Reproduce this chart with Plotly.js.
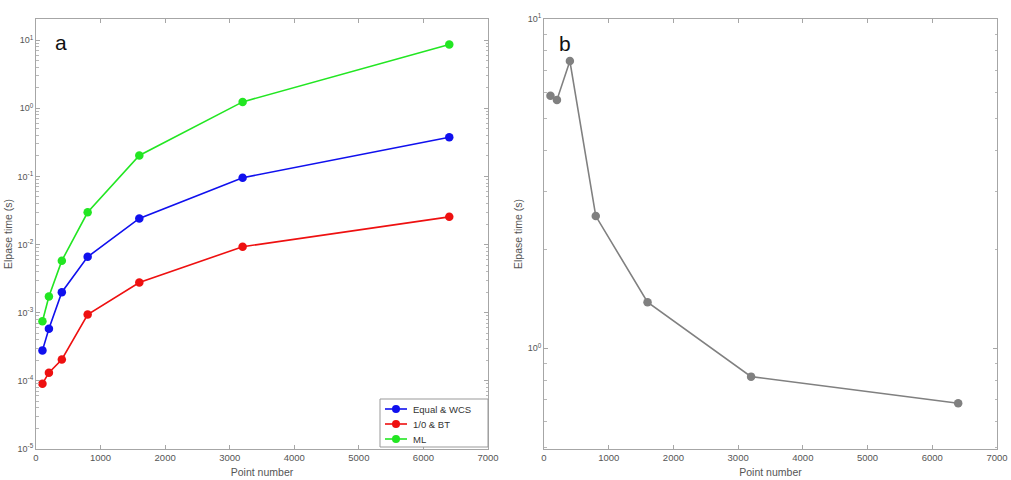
<!DOCTYPE html>
<html>
<head>
<meta charset="utf-8">
<script src="https://cdn.plot.ly/plotly-3.0.1.min.js"></script>
<style>
  html, body { margin: 0; padding: 0; background: #fff; }
  #chart { width: 1011px; height: 480px; }
</style>
</head>
<body>
<div id="chart"></div>
<script>
// Number of points processed in each run
const pointNumbers = [100, 200, 400, 800, 1600, 3200, 6400];

// Panel a: elapsed time (s) per method
const equalWcsTimes = [2.8e-4, 5.8e-4, 2.0e-3, 6.6e-3, 0.0242, 0.0957, 0.375];
const oneZeroBtTimes = [9.1e-5, 1.32e-4, 2.06e-4, 9.4e-4, 2.77e-3, 9.3e-3, 0.0255];
const mlTimes = [7.5e-4, 1.73e-3, 5.8e-3, 0.0298, 0.203, 1.24, 8.65];

// Panel b: elapsed time (s)
const panelBTimes = [5.85, 5.68, 7.45, 2.52, 1.38, 0.82, 0.681];

// Series names and colours
const seriesNames = ['Equal & WCS', '1/0 & BT', 'ML'];
const seriesColors = ['#1010ee', '#ee1010', '#22e622'];

// Tick positions and labels
const xTickVals = [0, 1000, 2000, 3000, 4000, 5000, 6000, 7000];
const xTickText = ['0', '1000', '2000', '3000', '4000', '5000', '6000', '7000'];
const yTickValsA = [1e-5, 1e-4, 1e-3, 1e-2, 1e-1, 1, 10];
const yTickTextA = ['10<sup>-5</sup>', '10<sup>-4</sup>', '10<sup>-3</sup>', '10<sup>-2</sup>',
                    '10<sup>-1</sup>', '10<sup>0</sup>', '10<sup>1</sup>'];
const yTickValsB = [1, 10];
const yTickTextB = ['10<sup>0</sup>', '10<sup>1</sup>'];

const W = 1011, H = 480;
const FONT = 'Liberation Sans, Arial, sans-serif';
const axisColor = '#a6a6a6';
const textColor = '#555';

// Minor log ticks (2..9 within each decade) between the given exponents
function minorLogTicks(e0, e1) {
  const out = [];
  for (let e = e0; e <= e1; e++) {
    for (let m = 2; m <= 9; m++) out.push(m * Math.pow(10, e));
  }
  return out;
}

function line(x, y, name, color, xa, ya) {
  return {
    type: 'scatter', mode: 'lines+markers', x: x, y: y, name: name,
    xaxis: xa, yaxis: ya, showlegend: false,
    line: { color: color, width: 1.6 },
    marker: { color: color, size: 8.5 }
  };
}

const traces = [
  line(pointNumbers, equalWcsTimes, seriesNames[0], seriesColors[0], 'x', 'y'),
  line(pointNumbers, oneZeroBtTimes, seriesNames[1], seriesColors[1], 'x', 'y'),
  line(pointNumbers, mlTimes, seriesNames[2], seriesColors[2], 'x', 'y'),
  line(pointNumbers, panelBTimes, 'b', '#808080', 'x2', 'y2')
];

function xAxis(domain, anchor) {
  return {
    domain: domain, anchor: anchor, range: [0, 7000],
    tickmode: 'array', tickvals: xTickVals, ticktext: xTickText,
    ticks: 'inside', ticklen: 4, tickcolor: axisColor,
    showline: true, linecolor: axisColor, linewidth: 1, mirror: 'allticks',
    showgrid: false, zeroline: false,
    tickfont: { family: FONT, size: 9.5, color: textColor },
    title: { text: 'Point number', standoff: 6,
             font: { family: FONT, size: 10.5, color: textColor } }
  };
}

function yAxis(domain, anchor, range, vals, text, minorVals, standoff) {
  return {
    domain: domain, anchor: anchor, type: 'log', range: range,
    tickmode: 'array', tickvals: vals, ticktext: text,
    ticks: 'inside', ticklen: 4, tickcolor: axisColor,
    minor: { tickmode: 'array', tickvals: minorVals, ticks: 'inside', ticklen: 2.5,
             tickcolor: '#b8b8b8', showgrid: false },
    showline: true, linecolor: axisColor, linewidth: 1, mirror: 'allticks',
    showgrid: false, zeroline: false,
    tickfont: { family: FONT, size: 9, color: textColor },
    title: { text: 'Elpase time (s)', standoff: standoff,
             font: { family: FONT, size: 10.5, color: textColor } }
  };
}

const yDom = [1 - 449 / H, 1 - 19 / H];

// Legend box drawn in paper coordinates (pixel layout converted)
const px = v => v / W;
const py = v => 1 - v / H;
const legendRows = [409, 424, 439];
const shapes = [
  { type: 'rect', xref: 'paper', yref: 'paper', x0: px(380), x1: px(488), y0: py(447), y1: py(399),
    line: { color: '#999', width: 1 }, fillcolor: '#fff', layer: 'above' }
];
const annotations = [
  { text: 'a', xref: 'paper', yref: 'paper', x: px(53), y: py(42),
    xanchor: 'left', yanchor: 'middle', showarrow: false,
    font: { family: FONT, size: 21, color: '#111' } },
  { text: 'b', xref: 'paper', yref: 'paper', x: px(557), y: py(43),
    xanchor: 'left', yanchor: 'middle', showarrow: false,
    font: { family: FONT, size: 21, color: '#111' } }
];
seriesNames.forEach((name, i) => {
  const yy = legendRows[i];
  shapes.push({ type: 'line', xref: 'paper', yref: 'paper', x0: px(385), x1: px(407),
                y0: py(yy), y1: py(yy), line: { color: seriesColors[i], width: 1.6 }, layer: 'above' });
  shapes.push({ type: 'circle', xref: 'paper', yref: 'paper', x0: px(392), x1: px(400),
                y0: py(yy + 4), y1: py(yy - 4), line: { width: 0 }, fillcolor: seriesColors[i], layer: 'above' });
  annotations.push({ text: name, xref: 'paper', yref: 'paper', x: px(411), y: py(yy),
                     xanchor: 'left', yanchor: 'middle', showarrow: false,
                     font: { family: FONT, size: 9.5, color: '#333' } });
});

const layout = {
  width: W, height: H,
  margin: { l: 0, r: 0, t: 0, b: 0 },
  paper_bgcolor: '#fff', plot_bgcolor: '#fff',
  showlegend: false,
  xaxis: xAxis([36 / W, 488 / W], 'y'),
  yaxis: yAxis(yDom, 'x', [-5, 1.31], yTickValsA, yTickTextA, minorLogTicks(-5, 1), 2),
  xaxis2: xAxis([544 / W, 997 / W], 'y2'),
  yaxis2: yAxis(yDom, 'x2', [-0.306, 1], yTickValsB, yTickTextB, minorLogTicks(-1, 0), 2),
  shapes: shapes,
  annotations: annotations
};

Plotly.newPlot('chart', traces, layout, { displayModeBar: false, staticPlot: true });
</script>
</body>
</html>
